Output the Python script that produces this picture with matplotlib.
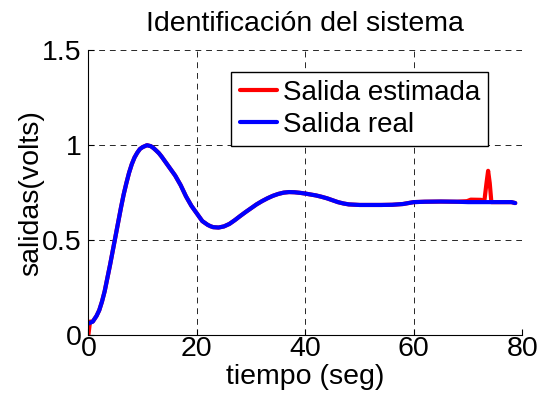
import matplotlib
matplotlib.use("Agg")
import matplotlib.pyplot as plt
import numpy as np

plt.rcParams['font.family'] = ['Liberation Sans', 'DejaVu Sans']

# Salida real (blue)
t_real = [0, 0.8, 1.5, 2, 2.5, 3, 3.5, 4, 4.5, 5, 5.5, 6, 6.5, 7, 7.5, 8, 8.5, 9, 9.5, 10,
          10.8, 11.5, 12, 12.5, 13, 13.5, 14, 14.5, 15, 15.5, 16, 16.5, 17, 17.5, 18,
          18.5, 19, 19.5, 20, 20.5, 21, 21.5, 22, 22.5, 23, 24, 25, 26, 27, 28, 29, 30,
          31, 32, 33, 34, 35, 36, 37, 38, 39, 40, 41, 42, 43, 44, 45, 46, 47, 48, 50,
          52, 54, 56, 58, 60, 62, 65, 68, 70, 72, 74, 76, 78, 78.7]
y_real = [0.06, 0.07, 0.10, 0.13, 0.175, 0.23, 0.30, 0.37, 0.445, 0.52, 0.595, 0.67,
          0.74, 0.80, 0.855, 0.90, 0.935, 0.96, 0.98, 0.99, 1.0, 0.995, 0.985, 0.972,
          0.958, 0.94, 0.92, 0.90, 0.88, 0.86, 0.84, 0.815, 0.79, 0.76, 0.73, 0.705,
          0.68, 0.66, 0.64, 0.62, 0.60, 0.59, 0.58, 0.573, 0.568, 0.566, 0.572, 0.585,
          0.605, 0.627, 0.648, 0.668, 0.688, 0.705, 0.72, 0.733, 0.743, 0.75, 0.753,
          0.752, 0.749, 0.745, 0.740, 0.735, 0.728, 0.72, 0.71, 0.70, 0.693, 0.688,
          0.685, 0.685, 0.685, 0.686, 0.69, 0.70, 0.702, 0.703, 0.702, 0.70, 0.70,
          0.70, 0.70, 0.70, 0.695]

# Salida estimada (red)
t_est = [0, 0.3, 0.8, 1.5, 2, 2.5, 3, 3.5, 4, 4.5, 5, 5.5, 6, 6.5, 7, 7.5, 8, 8.5, 9,
         9.5, 10, 10.8, 11.5, 12, 12.5, 13, 13.5, 14, 14.5, 15, 15.5, 16, 16.5, 17,
         17.5, 18, 18.5, 19, 19.5, 20, 20.5, 21, 21.5, 22, 22.5, 23, 24, 25, 26, 27,
         28, 29, 30, 31, 32, 33, 34, 35, 36, 37, 38, 39, 40, 41, 42, 43, 44, 45, 46,
         47, 48, 50, 52, 54, 56, 58, 60, 62, 65, 68, 69.8, 70.5, 72.4, 73.0, 73.4,
         73.7, 74.0, 74.3, 76, 78, 78.7]
y_est = [0.0, 0.07, 0.07, 0.10, 0.13, 0.175, 0.23, 0.30, 0.37, 0.445, 0.52, 0.595,
         0.67, 0.74, 0.80, 0.855, 0.90, 0.935, 0.96, 0.98, 0.99, 1.0, 0.995, 0.985,
         0.972, 0.958, 0.94, 0.92, 0.90, 0.88, 0.86, 0.84, 0.815, 0.79, 0.76, 0.73,
         0.705, 0.68, 0.66, 0.64, 0.62, 0.60, 0.59, 0.58, 0.573, 0.568, 0.566, 0.572,
         0.585, 0.605, 0.627, 0.648, 0.668, 0.688, 0.705, 0.72, 0.733, 0.743, 0.75,
         0.753, 0.752, 0.749, 0.745, 0.740, 0.735, 0.728, 0.72, 0.71, 0.70, 0.693,
         0.688, 0.685, 0.685, 0.685, 0.686, 0.69, 0.70, 0.702, 0.703, 0.702, 0.705,
         0.713, 0.712, 0.705, 0.80, 0.865, 0.80, 0.70, 0.70, 0.70, 0.695]

x_ticks = [0, 20, 40, 60, 80]
y_ticks = [0, 0.5, 1, 1.5]
y_tick_labels = ['0', '0.5', '1', '1.5']

fig = plt.figure(figsize=(5.39, 4.03), dpi=100)
ax = fig.add_axes([0.164, 0.169, 0.805, 0.706])

ax.plot(t_est, y_est, color='#ff0000', lw=3.0, label='Salida estimada',
        solid_capstyle='round', solid_joinstyle='round')
ax.plot(t_real, y_real, color='#0000ff', lw=3.0, label='Salida real',
        solid_capstyle='round', solid_joinstyle='round')

ax.set_xlim(0, 80)
ax.set_ylim(0, 1.5)
ax.set_xticks(x_ticks)
ax.set_yticks(y_ticks)
ax.set_yticklabels(y_tick_labels)

fs = 20.5
ax.tick_params(direction='in', length=4, width=0.8, labelsize=fs, colors='black')
ax.tick_params(axis='x', pad=1)
ax.tick_params(axis='y', pad=5)
for s in ['top', 'right']:
    ax.spines[s].set_visible(False)
for s in ['left', 'bottom']:
    ax.spines[s].set_linewidth(0.8)

ax.grid(True, color='0.15', linestyle=(0, (6, 5)), linewidth=0.7)
ax.set_axisbelow(True)

ax.set_title('Identificación del sistema', fontsize=fs, pad=14)
ax.set_xlabel('tiempo (seg)', fontsize=fs, labelpad=1)
ax.set_ylabel('salidas(volts)', fontsize=fs, labelpad=-2)

leg = ax.legend(loc='upper right', bbox_to_anchor=(0.922, 0.925), fontsize=20,
                frameon=True, fancybox=False, edgecolor='black', framealpha=1,
                handlelength=1.35, handletextpad=0.2, borderpad=0.3, labelspacing=0.2,
                borderaxespad=0)
leg.get_frame().set_linewidth(1.0)

fig.savefig('out.png', dpi=100)
